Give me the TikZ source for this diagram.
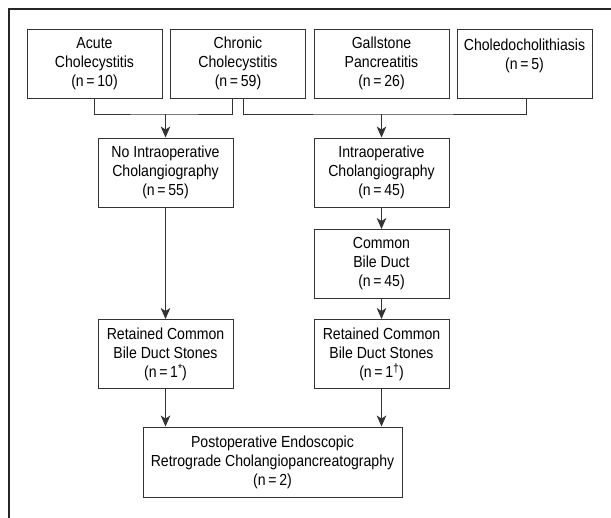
\documentclass[tikz,border=0pt]{standalone}
\usepackage{fontspec}
\setmainfont[FakeStretch=0.88]{Liberation Sans}
\usetikzlibrary{arrows.meta}

\newcommand{\supmark}[1]{\raisebox{5pt}{\fontsize{12}{12}\selectfont #1}}

\tikzset{
	box/.style={draw=black!80, line width=0.9pt, minimum width=135pt, minimum height=69pt,
		align=center, inner xsep=3pt, inner ysep=2pt, font=\fontsize{16}{19}\selectfont},
	link/.style={draw=black!80, line width=0.9pt},
	arr/.style={link, -{Stealth[length=11pt,width=9.5pt,inset=3pt]}},
}

\begin{document}
\begin{tikzpicture}[x=1pt,y=-1pt]
	\useasboundingbox (0,0) rectangle (611,518);
	\draw[black!85, line width=1.8pt] (9,518) -- (9,9) -- (611,9);
	% diagnoses
	\node[box] (acute) at (94.5,63.5) {Acute\\Cholecystitis\\(n\,=\,10)};
	\node[box] (chronic) at (238,63.5) {Chronic\\Cholecystitis\\(n\,=\,59)};
	\node[box] (gall) at (381.5,63.5) {Gallstone\\Pancreatitis\\(n\,=\,26)};
	\node[box] (choledo) at (524.5,63.5) {Choledocholithiasis\\(n\,=\,5)\\\mbox{}};
	% intraoperative
	\node[box] (nocho) at (165.5,172.5) {No Intraoperative\\Cholangiography\\(n\,=\,55)};
	\node[box] (iocho) at (381.5,172.5) {Intraoperative\\Cholangiography\\(n\,=\,45)};
	\node[box] (cbd) at (381.5,264) {Common\\Bile Duct\\(n\,=\,45)};
	% stones
	\node[box] (retL) at (165.5,354) {Retained Common\\Bile Duct Stones\\(n\,=\,1\supmark{*})};
	\node[box] (retR) at (381.5,354) {Retained Common\\Bile Duct Stones\\(n\,=\,1\supmark{†})};
	\node[box, minimum width=259pt, minimum height=70pt] (ercp) at (272.5,462)
		{Postoperative Endoscopic\\Retrograde Cholangiopancreatography\\(n\,=\,2)};
	% connectors
	\coordinate (joinL) at (165.5,114);
	\coordinate (joinR) at (381.5,114);
	\draw[link] (acute.south) |- (joinL) -| ([xshift=-6pt]chronic.south);
	\draw[link] ([xshift=5pt]chronic.south) |- (joinR) -| ([xshift=2pt]choledo.south);
	\draw[arr] (joinL) -- (nocho.north);
	\draw[arr] (joinR) -- (iocho.north);
	\draw[arr] (iocho) -- (cbd);
	\draw[arr] (cbd) -- (retR);
	\draw[arr] (nocho) -- (retL);
	\draw[arr] (retL.south) -- (retL.south |- ercp.north);
	\draw[arr] (retR.south) -- (retR.south |- ercp.north);
\end{tikzpicture}
\end{document}
